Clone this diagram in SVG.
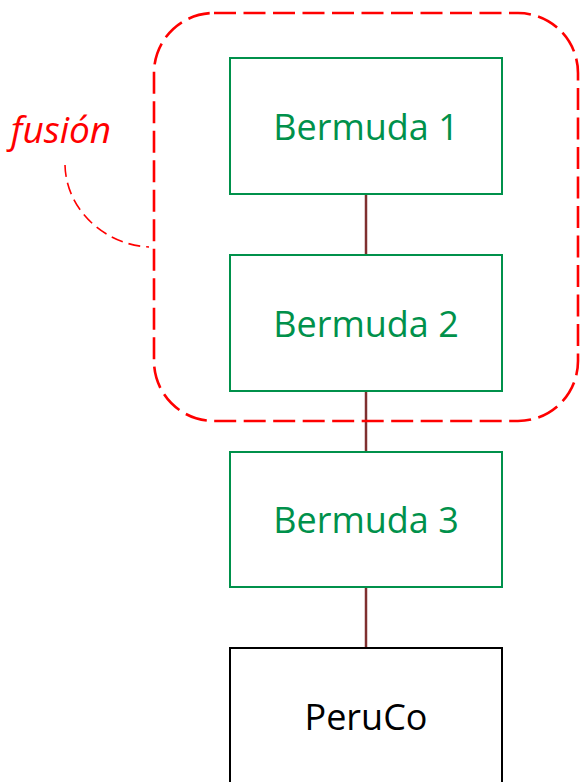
<svg xmlns="http://www.w3.org/2000/svg" width="581" height="782" viewBox="0 0 581 782">
  <style>
    .box { fill: #ffffff; stroke-width: 2; }
    .green { stroke: #00914B; }
    .black { stroke: #000000; }
    .label { font-family: "Open Sans", "Liberation Sans", sans-serif; font-size: 36px; text-anchor: middle; }
    .link { stroke: #7F3030; stroke-width: 2.5; fill: none; }
    .group { fill: none; stroke: #FF0000; stroke-width: 2.6; stroke-dasharray: 22 7.5; }
    .callout { fill: none; stroke: #FF0000; stroke-width: 1.6; stroke-dasharray: 12 6; }
  </style>
  <rect width="581" height="782" fill="#ffffff"/>

  <g id="connectors">
    <line class="link" x1="366" y1="194" x2="366" y2="255"/>
    <line class="link" x1="366" y1="391" x2="366" y2="452"/>
    <line class="link" x1="366" y1="587" x2="366" y2="648"/>
  </g>

  <g id="bermuda1">
    <rect class="box green" x="230" y="58" width="272" height="136"/>
    <text class="label" x="366" y="140" fill="#00914B">Bermuda 1</text>
  </g>
  <g id="bermuda2">
    <rect class="box green" x="230" y="255" width="272" height="136"/>
    <text class="label" x="366" y="337" fill="#00914B">Bermuda 2</text>
  </g>
  <g id="bermuda3">
    <rect class="box green" x="230" y="452" width="272" height="135"/>
    <text class="label" x="366" y="533" fill="#00914B">Bermuda 3</text>
  </g>
  <g id="peruco">
    <rect class="box black" x="230" y="648" width="272" height="140"/>
    <text class="label" x="366" y="730" fill="#000000">PeruCo</text>
  </g>

  <g id="fusion">
    <rect class="group" x="154" y="13" width="424" height="408" rx="60" ry="60"/>
    <path class="callout" d="M65,165 C66,210 105,245 149,247"/>
    <text x="61" y="143" font-family="'Open Sans', 'Liberation Sans', sans-serif" font-size="37" font-style="italic" fill="#FF0000" text-anchor="middle">fusión</text>
  </g>
</svg>
